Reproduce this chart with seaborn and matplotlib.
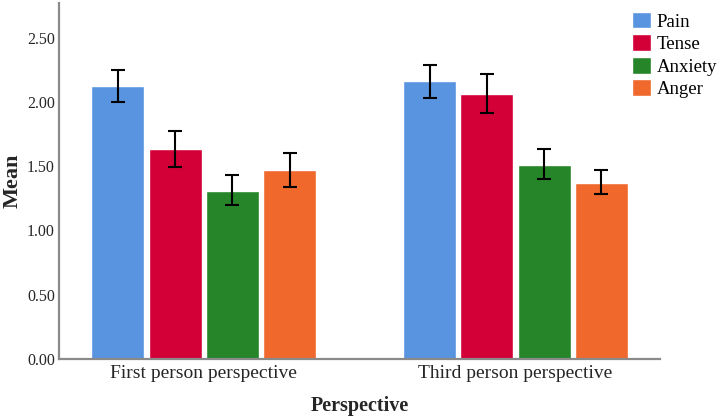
import matplotlib
matplotlib.use("Agg")
import matplotlib.pyplot as plt
import seaborn as sns
import pandas as pd
import numpy as np

perspectives = ["First person perspective", "Third person perspective"]
emotions = ["Pain", "Tense", "Anxiety", "Anger"]
means_first = [2.12, 1.63, 1.31, 1.47]
means_third = [2.16, 2.06, 1.51, 1.37]
err_low_first = [2.00, 1.49, 1.20, 1.34]
err_high_first = [2.245, 1.77, 1.43, 1.60]
err_low_third = [2.03, 1.91, 1.40, 1.28]
err_high_third = [2.29, 2.22, 1.63, 1.47]
yticks = [0.0, 0.5, 1.0, 1.5, 2.0, 2.5]
colors = ["#5894E0", "#D30037", "#268528", "#F0682C"]

rows = []
for p, m, lo, hi in [(perspectives[0], means_first, err_low_first, err_high_first),
                     (perspectives[1], means_third, err_low_third, err_high_third)]:
    for e, mv, l, h in zip(emotions, m, lo, hi):
        rows.append({"Perspective": p, "Emotion": e, "Mean": mv, "lo": l, "hi": h})
df = pd.DataFrame(rows)

sns.set_theme(style="white")
SERIF = ["Liberation Serif", "DejaVu Serif"]
plt.rcParams["font.family"] = SERIF

fig = plt.figure(figsize=(7.26, 4.18), dpi=100)
ax = fig.add_axes([0.0813, 0.141, 0.828, 0.852])

sns.barplot(data=df, x="Perspective", y="Mean", hue="Emotion", order=perspectives,
            hue_order=emotions, palette=colors, width=0.735, gap=0.075, errorbar=None,
            saturation=1, ax=ax)

# error bars at bar centres from the library's patches
for cont, e in zip(ax.containers, emotions):
    for bar, p in zip(cont, perspectives):
        r = df[(df.Perspective == p) & (df.Emotion == e)].iloc[0]
        xc = bar.get_x() + bar.get_width() / 2
        ax.errorbar([xc], [r.Mean], yerr=[[r.Mean - r.lo], [r.hi - r.Mean]],
                    fmt="none", ecolor="black", elinewidth=1.5, capsize=5, capthick=1.5)

ax.set_xlim(-0.464, 1.464)
ax.set_ylim(0, 2.77)
ax.set_yticks(yticks)
ax.set_yticklabels([f"{v:.2f}" for v in yticks], fontsize=11.5, family=SERIF)
ax.set_xticks(range(len(perspectives)))
ax.set_xticklabels(perspectives, fontsize=14, family=SERIF)
ax.tick_params(axis="x", length=0, pad=4)
ax.tick_params(axis="y", length=0, pad=3)
ax.set_xlabel("Perspective", fontsize=14.5, fontweight="bold", labelpad=10, family=SERIF)
ax.set_ylabel("Mean", fontsize=16, fontweight="bold", va="center", family=SERIF)
ax.yaxis.set_label_coords(-0.078, 0.5)
for s in ["top", "right"]:
    ax.spines[s].set_visible(False)
for s in ["left", "bottom"]:
    ax.spines[s].set_color("#8a8a8a")
    ax.spines[s].set_linewidth(1.6)

leg = ax.legend(title=None, loc="upper left", bbox_to_anchor=(0.8705, 0.972),
                bbox_transform=fig.transFigure, frameon=False,
                prop={"family": SERIF, "size": 13.5},
                handlelength=1.0, handleheight=1.0, handletextpad=0.3,
                labelspacing=0.2, borderpad=0, borderaxespad=0)
for t in leg.get_texts():
    t.set_color("black")

fig.savefig("out.png", dpi=100)
